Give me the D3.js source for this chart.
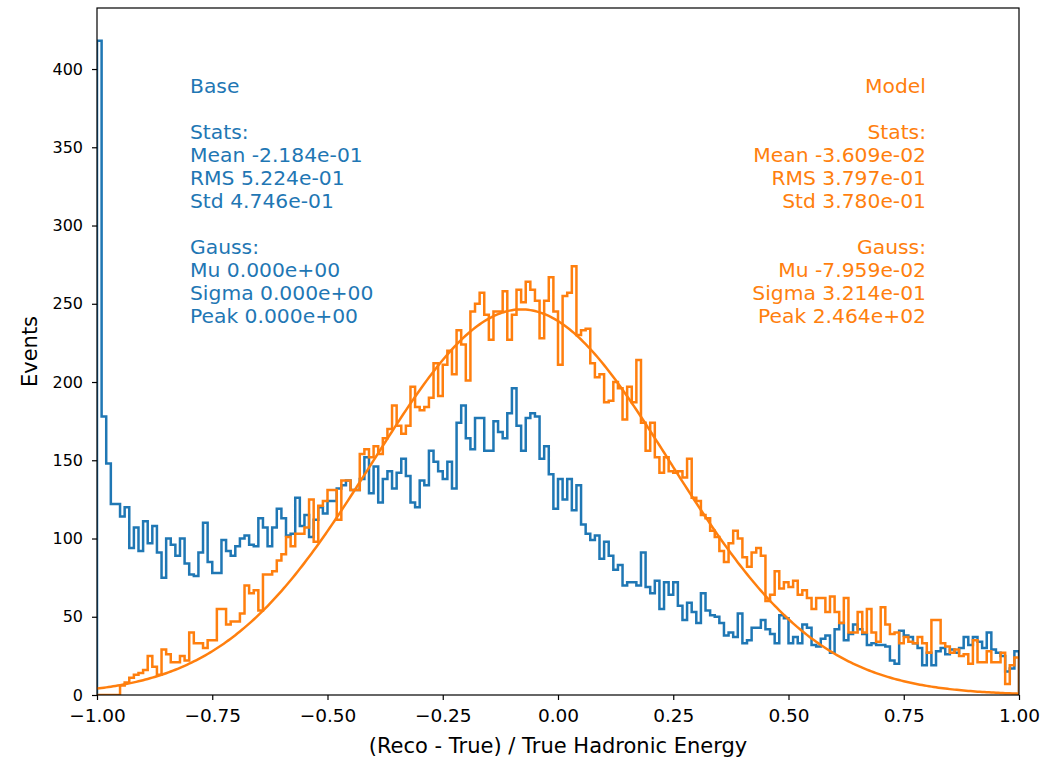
<!DOCTYPE html>
<html>
<head>
<meta charset="utf-8">
<script src="https://cdn.jsdelivr.net/npm/d3@7"></script>
<style>
  body { margin: 0; background: #ffffff; }
  svg text { font-family: "DejaVu Sans", sans-serif; }
</style>
</head>
<body>
<svg id="chart" width="1046" height="760"></svg>
<script>
// Histogram counts, 200 equal bins over [-1, 1]
const baseCounts = [
  418, 178, 148, 122, 122, 114, 120, 94, 107, 92,
  111, 97, 108, 91, 75, 100, 96, 89, 100, 84,
  77, 76, 91, 110, 85, 78, 78, 99, 92, 89,
  95, 100, 102, 96, 95, 113, 107, 95, 107, 119,
  113, 102, 103, 126, 108, 115, 101, 112, 120, 116,
  124, 124, 132, 134, 137, 131, 131, 138, 152, 129,
  146, 123, 138, 143, 132, 142, 151, 140, 123, 120,
  137, 134, 156, 149, 143, 138, 149, 132, 174, 185,
  164, 157, 177, 177, 156, 156, 175, 168, 164, 180,
  196, 172, 156, 177, 180, 178, 151, 159, 141, 119,
  138, 125, 138, 118, 134, 109, 103, 99, 102, 87,
  98, 89, 80, 83, 70, 72, 72, 70, 91, 69,
  65, 73, 55, 72, 64, 72, 57, 48, 59, 53,
  46, 65, 54, 51, 50, 46, 38, 40, 37, 52,
  33, 35, 43, 43, 48, 42, 39, 33, 51, 49,
  33, 37, 33, 45, 43, 32, 31, 36, 38, 27,
  42, 46, 35, 39, 45, 42, 39, 32, 33, 32,
  32, 31, 22, 20, 41, 38, 37, 33, 30, 19,
  27, 19, 28, 30, 26, 29, 27, 30, 37, 32,
  37, 34, 30, 40, 29, 27, 25, 15, 17, 28
];
const modelCounts = [
  0, 0, 0, 0, 0, 6, 8, 11, 13, 14,
  16, 25, 18, 13, 29, 26, 21, 21, 25, 22,
  40, 33, 33, 30, 35, 35, 55, 55, 45, 47,
  47, 52, 70, 65, 67, 54, 77, 77, 79, 86,
  90, 101, 95, 103, 103, 107, 125, 98, 121, 124,
  131, 131, 112, 137, 137, 131, 131, 154, 157, 152,
  159, 154, 164, 170, 185, 172, 167, 172, 197, 184,
  182, 184, 190, 212, 191, 211, 220, 205, 233, 224,
  201, 245, 250, 257, 243, 227, 245, 245, 258, 227,
  243, 259, 251, 264, 259, 252, 228, 252, 267, 245,
  211, 255, 257, 274, 230, 233, 234, 212, 203, 205,
  187, 188, 200, 196, 176, 197, 187, 214, 174, 156,
  174, 152, 142, 152, 143, 142, 143, 139, 151, 126,
  124, 115, 113, 105, 101, 92, 85, 97, 105, 100,
  88, 82, 91, 94, 89, 60, 64, 79, 68, 72,
  69, 73, 64, 67, 62, 55, 62, 62, 53, 63,
  53, 46, 62, 40, 40, 53, 40, 55, 40, 34,
  56, 45, 39, 40, 33, 37, 34, 33, 37, 33,
  27, 48, 48, 33, 31, 27, 29, 25, 26, 20,
  35, 21, 21, 28, 21, 21, 27, 7, 19, 24
];
const binRange = [-1, 1];
const xTickValues = [-1, -0.75, -0.5, -0.25, 0, 0.25, 0.5, 0.75, 1];
const yTickValues = [0, 50, 100, 150, 200, 250, 300, 350, 400];

// Fitted Gaussian for the model histogram
const modelGauss = { mu: -7.959e-02, sigma: 3.214e-01, peak: 2.464e+02 };

const baseLabels = [
  "Base", "", "Stats:", "Mean -2.184e-01", "RMS 5.224e-01", "Std 4.746e-01",
  "", "Gauss:", "Mu 0.000e+00", "Sigma 0.000e+00", "Peak 0.000e+00"
];
const modelLabels = [
  "Model", "", "Stats:", "Mean -3.609e-02", "RMS 3.797e-01", "Std 3.780e-01",
  "", "Gauss:", "Mu -7.959e-02", "Sigma 3.214e-01", "Peak 2.464e+02"
];

const colors = { base: "#1f77b4", model: "#ff7f0e" };

const W = 1046, H = 760;
const margin = { top: 8, right: 27, bottom: 65, left: 97 };
const iw = W - margin.left - margin.right;
const ih = H - margin.top - margin.bottom;

const svg = d3.select("#chart");
const g = svg.append("g").attr("transform", `translate(${margin.left},${margin.top})`);

const x = d3.scaleLinear().domain(binRange).range([0, iw]);
const y = d3.scaleLinear().domain([0, 439]).range([ih, 0]);

// Clip marks to the axes box
svg.append("defs").append("clipPath").attr("id", "plot-clip")
  .append("rect").attr("width", iw).attr("height", ih);

const nBins = baseCounts.length;
const binWidth = (binRange[1] - binRange[0]) / nBins;

// Outline of a step histogram: up from zero, across each bin, back down to zero
function stepPoints(counts) {
  const pts = [[binRange[0], 0]];
  counts.forEach((c, i) => {
    const x0 = binRange[0] + i * binWidth;
    pts.push([x0, c], [x0 + binWidth, c]);
  });
  pts.push([binRange[1], 0]);
  return pts;
}

const line = d3.line().x(d => x(d[0])).y(d => y(d[1]));

const plot = g.append("g").attr("clip-path", "url(#plot-clip)");

plot.append("path")
  .datum(stepPoints(baseCounts))
  .attr("d", line)
  .attr("fill", "none")
  .attr("stroke", colors.base)
  .attr("stroke-width", 2.5)
  .attr("stroke-linejoin", "miter");

plot.append("path")
  .datum(stepPoints(modelCounts))
  .attr("d", line)
  .attr("fill", "none")
  .attr("stroke", colors.model)
  .attr("stroke-width", 2.5)
  .attr("stroke-linejoin", "miter");

// Gaussian fit curve
const gaussX = d3.range(0, 401).map(i => binRange[0] + i * (binRange[1] - binRange[0]) / 400);
const gaussPts = gaussX.map(v => [v, modelGauss.peak * Math.exp(-((v - modelGauss.mu) ** 2) / (2 * modelGauss.sigma ** 2))]);
plot.append("path")
  .datum(gaussPts)
  .attr("d", line)
  .attr("fill", "none")
  .attr("stroke", colors.model)
  .attr("stroke-width", 2.5);

// Axes
const minusFmt = f => d => f(d).replace("-", "\u2212");
const xAxis = d3.axisBottom(x).tickValues(xTickValues)
  .tickFormat(minusFmt(d3.format(".2f"))).tickSize(5).tickPadding(9);
const yAxis = d3.axisLeft(y).tickValues(yTickValues)
  .tickFormat(d3.format("d")).tickSize(5).tickPadding(9);

const gx = g.append("g").attr("transform", `translate(0,${ih})`).call(xAxis);
const gy = g.append("g").call(yAxis);
[gx, gy].forEach(a => {
  a.select(".domain").remove();
  a.selectAll(".tick line").attr("stroke", "#000").attr("stroke-width", 1.2);
  a.selectAll(".tick text").attr("fill", "#000")
    .style("font-family", '"DejaVu Sans", sans-serif');
});
gx.selectAll(".tick text").style("font-size", "18.5px");
gy.selectAll(".tick text").style("font-size", "16px");

// Frame
g.append("rect").attr("width", iw).attr("height", ih)
  .attr("fill", "none").attr("stroke", "#000").attr("stroke-width", 1.2);

// Axis titles
svg.append("text")
  .attr("x", margin.left + iw / 2).attr("y", 753)
  .attr("text-anchor", "middle").style("font-size", "21px")
  .text("(Reco - True) / True Hadronic Energy");

svg.append("text")
  .attr("transform", `translate(30,${margin.top + ih / 2}) rotate(-90)`)
  .attr("text-anchor", "middle").attr("dominant-baseline", "central")
  .style("font-size", "21px")
  .text("Events");

// Statistics text blocks
const lineH = 23;
svg.append("g").selectAll("text").data(baseLabels).join("text")
  .attr("x", 190).attr("y", (d, i) => 93 + i * lineH)
  .attr("fill", colors.base).style("font-size", "20.3px")
  .text(d => d);

svg.append("g").selectAll("text").data(modelLabels).join("text")
  .attr("x", 926).attr("y", (d, i) => 93 + i * lineH)
  .attr("text-anchor", "end")
  .attr("fill", colors.model).style("font-size", "20.3px")
  .text(d => d);
</script>
</body>
</html>
